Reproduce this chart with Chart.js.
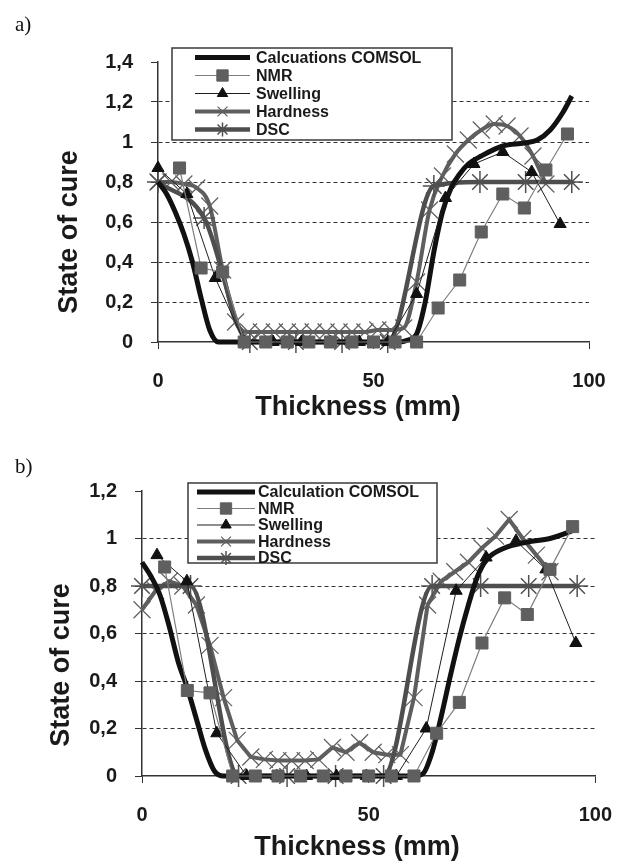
<!DOCTYPE html>
<html lang="en">
<head>
    <meta charset="UTF-8">
    <title>State of cure vs thickness</title>
    <script src="https://cdn.jsdelivr.net/npm/chart.js"></script>
    <style>
        body { margin: 0; background: #fff; width: 632px; height: 864px; position: relative; overflow: hidden; }
        .panel { position: absolute; left: 0; width: 632px; height: 432px; }
        .tag { position: absolute; left: 15px; font-family: "Liberation Serif", "Times New Roman", serif; font-size: 21px; color: #111; }
    </style>
</head>
<body>
    <div class="panel" style="top:0"><canvas id="chartA"></canvas></div>
    <div class="panel" style="top:432px"><canvas id="chartB"></canvas></div>
    <div class="tag" style="top:12px">a)</div>
    <div class="tag" style="top:454px">b)</div>

    <script>
        // ---- panel a) ----
        const comsolAX = [0, 2, 4, 6, 8, 10, 12, 14, 20, 30, 40, 50, 56, 58, 60, 62, 64, 66, 68, 70, 72, 75, 80, 85, 88, 91, 94, 96];
        const comsolAY = [0.80, 0.74, 0.65, 0.54, 0.40, 0.22, 0.06, 0, 0, 0, 0, 0, 0, 0.01, 0.04, 0.20, 0.45, 0.65, 0.77, 0.84, 0.89, 0.93, 0.98, 0.995, 1.01, 1.06, 1.15, 1.23];
        const nmrX = [5, 10, 15, 20, 25, 30, 35, 40, 45, 50, 55, 60, 65, 70, 75, 80, 85, 90, 95];
        const nmrAY = [0.87, 0.37, 0.35, 0, 0, 0, 0, 0, 0, 0, 0, 0, 0.17, 0.31, 0.55, 0.74, 0.67, 0.86, 1.04];
        const swellAX = [0, 6.7, 13.3, 20, 26.7, 33.3, 40, 46.7, 53.3, 60, 66.7, 73.3, 80, 86.7, 93.3];
        const swellAY = [0.87, 0.74, 0.32, 0, 0, 0, 0, 0, 0, 0.24, 0.72, 0.89, 0.95, 0.85, 0.59];
        const hardX = [0, 3, 6, 9, 12, 15, 18, 21, 24, 27, 30, 33, 36, 39, 42, 45, 48, 51, 54, 57, 60, 63, 66, 69, 72, 75, 78, 81, 84, 87, 90];
        const hardAY = [0.80, 0.80, 0.79, 0.77, 0.68, 0.36, 0.10, 0.05, 0.05, 0.05, 0.05, 0.05, 0.05, 0.05, 0.05, 0.05, 0.05, 0.06, 0.06, 0.07, 0.30, 0.66, 0.83, 0.94, 1.01, 1.06, 1.09, 1.08, 1.03, 0.93, 0.79];
        const dscX = [0, 10.7, 21.3, 32, 42.7, 53.3, 64, 74.7, 85.3, 96];
        const dscAY = [0.80, 0.62, 0, 0, 0, 0, 0.78, 0.80, 0.80, 0.80];

        // ---- panel b) ----
        const comsolBX = [0, 2, 4, 6, 8, 10, 12, 14, 16, 18, 30, 40, 50, 60, 62, 64, 66, 68, 70, 72, 74, 76, 80, 85, 90, 96];
        const comsolBY = [0.90, 0.84, 0.76, 0.63, 0.48, 0.37, 0.24, 0.11, 0.02, 0, 0, 0, 0, 0, 0.01, 0.10, 0.25, 0.42, 0.58, 0.72, 0.84, 0.91, 0.96, 0.985, 1.0, 1.04];
        const nmrBY = [0.88, 0.36, 0.35, 0, 0, 0, 0, 0, 0, 0, 0, 0, 0.18, 0.31, 0.56, 0.75, 0.68, 0.87, 1.05];
        const swellBX = [3.3, 9.9, 16.5, 23.1, 29.7, 36.3, 42.9, 49.5, 56.1, 62.7, 69.3, 75.9, 82.5, 89.1, 95.7];
        const swellBY = [0.93, 0.82, 0.18, 0, 0, 0, 0, 0, 0, 0.20, 0.78, 0.92, 0.99, 0.87, 0.56];
        const hardBY = [0.70, 0.78, 0.82, 0.80, 0.72, 0.55, 0.33, 0.15, 0.08, 0.07, 0.065, 0.065, 0.065, 0.07, 0.12, 0.10, 0.14, 0.10, 0.09, 0.09, 0.33, 0.72, 0.82, 0.86, 0.90, 0.96, 1.01, 1.08, 1.00, 0.93, 0.86];
        const dscBY = [0.80, 0.80, 0, 0, 0, 0, 0.80, 0.80, 0.80, 0.80];

        const xTicks = [0, 50, 100];
        const seriesNamesA = ['Calcuations COMSOL', 'NMR', 'Swelling', 'Hardness', 'DSC'];
        const seriesNamesB = ['Calculation COMSOL', 'NMR', 'Swelling', 'Hardness', 'DSC'];
        const xTitle = 'Thickness (mm)';
        const yTitle = 'State of cure';

        const FONT = '"Liberation Sans", Arial, sans-serif';
        const pts = (xs, ys) => xs.map((x, i) => ({ x: x, y: ys[i] }));
        const yFmt = v => {
            const r = Math.round(v * 10) / 10;
            return Number.isInteger(r) ? String(r) : String(r).replace('.', ',');
        };

        // axis titles sit off-centre in the original, so they are placed by hand
        const axisTitles = {
            id: 'axisTitles',
            afterDraw(chart, args, o) {
                const ctx = chart.ctx;
                ctx.save();
                ctx.fillStyle = '#1a1a1a';
                ctx.font = 'bold 27px ' + FONT;
                ctx.textAlign = 'center';
                ctx.textBaseline = 'middle';
                ctx.fillText(xTitle, o.xx, o.xy);
                ctx.translate(o.yx, o.yy);
                ctx.rotate(-Math.PI / 2);
                ctx.fillText(yTitle, 0, 0);
                ctx.restore();
            }
        };

        // legend drawn as a framed box inside the plot, like the original
        const boxLegend = {
            id: 'boxLegend',
            afterDraw(chart, args, o) {
                const ctx = chart.ctx;
                ctx.save();
                ctx.fillStyle = '#fff';
                ctx.fillRect(o.x, o.y, o.w, o.h);
                ctx.lineWidth = 1.5;
                ctx.strokeStyle = '#3a3a3a';
                ctx.strokeRect(o.x, o.y, o.w, o.h);
                ctx.font = 'bold ' + o.size + 'px ' + FONT;
                ctx.textBaseline = 'middle';
                chart.data.datasets.forEach((ds, i) => {
                    const y = o.y + o.first + i * o.step;
                    ctx.strokeStyle = ds.borderColor;
                    ctx.lineWidth = ds.borderWidth;
                    ctx.beginPath();
                    ctx.moveTo(o.x1, y);
                    ctx.lineTo(o.x2, y);
                    ctx.stroke();
                    if (ds.pointRadius > 0 && Chart.helpers && Chart.helpers.drawPoint) {
                        ctx.fillStyle = ds.pointBackgroundColor;
                        ctx.strokeStyle = ds.pointBorderColor;
                        ctx.lineWidth = ds.pointBorderWidth;
                        Chart.helpers.drawPoint(ctx, {
                            pointStyle: ds.pointStyle, radius: ds.legendRadius, rotation: 0, borderWidth: ds.pointBorderWidth
                        }, (o.x1 + o.x2) / 2, y);
                    }
                    ctx.fillStyle = '#1a1a1a';
                    ctx.fillText(ds.label, o.tx, y + 1);
                });
                ctx.restore();
            }
        };

        function makeDatasets(names, d) {
            return [
                { label: names[0], data: pts(d.comsolX, d.comsolY), borderColor: '#111', borderWidth: 5,
                  pointRadius: 0, cubicInterpolationMode: 'monotone', order: 2, clip: false },
                { label: names[1], data: pts(nmrX, d.nmrY), borderColor: '#7e7e7e', borderWidth: 1.2,
                  pointStyle: 'rect', pointRadius: 8.5, legendRadius: 8, pointBackgroundColor: '#5f5f5f',
                  pointBorderColor: '#5f5f5f', pointBorderWidth: 1, tension: 0, order: 0, clip: false },
                { label: names[2], data: pts(d.swellX, d.swellY), borderColor: '#1e1e1e', borderWidth: 1,
                  pointStyle: 'triangle', pointRadius: 7, legendRadius: 6, pointBackgroundColor: '#111',
                  pointBorderColor: '#111', pointBorderWidth: 1, tension: 0, order: 1, clip: false },
                { label: names[3], data: pts(hardX, d.hardY), borderColor: '#5e5e5e', borderWidth: 4,
                  pointStyle: 'crossRot', pointRadius: 12, legendRadius: 7, pointBackgroundColor: '#606060',
                  pointBorderColor: '#606060', pointBorderWidth: 1.2, cubicInterpolationMode: d.hardMode,
                  tension: 0, order: 4, clip: false },
                { label: names[4], data: pts(dscX, d.dscY), borderColor: '#4e4e4e', borderWidth: 4.5,
                  pointStyle: 'star', pointRadius: 11, legendRadius: 7, pointBackgroundColor: '#505050',
                  pointBorderColor: '#505050', pointBorderWidth: 1.5, cubicInterpolationMode: 'monotone',
                  order: 3, clip: false }
            ];
        }

        function makeChart(id, names, d, lay) {
            const yMax = lay.yMax;
            new Chart(document.getElementById(id), {
                type: 'line',
                data: { datasets: makeDatasets(names, d) },
                options: {
                    responsive: true,
                    maintainAspectRatio: false,
                    animation: false,
                    layout: { padding: { top: lay.top, right: lay.right, left: 0, bottom: 0 } },
                    scales: {
                        x: {
                            type: 'linear', min: 0, max: 100,
                            afterBuildTicks: s => { s.ticks = xTicks.map(v => ({ value: v })); },
                            ticks: { padding: 20, color: '#1a1a1a', font: { family: FONT, size: 20, weight: 'bold' } },
                            grid: { drawOnChartArea: false, tickLength: 7, tickColor: '#333', color: '#333' },
                            border: { color: '#333', width: 1.5 },
                            title: { display: false, text: xTitle },
                            afterFit: s => { s.height = lay.xHeight; }
                        },
                        y: {
                            min: 0, max: yMax,
                            ticks: { stepSize: 0.2, padding: 18, color: '#1a1a1a', callback: yFmt,
                                     font: { family: FONT, size: 20, weight: 'bold' } },
                            grid: {
                                color: c => (c.tick && (c.tick.value <= 0 || c.tick.value >= yMax - 1e-6)) ? 'rgba(0,0,0,0)' : '#333',
                                lineWidth: 1, tickLength: 7, tickColor: '#333'
                            },
                            border: { color: '#333', width: 1.5, dash: [4, 3] },
                            title: { display: false, text: yTitle },
                            afterFit: s => { s.width = lay.yWidth; }
                        }
                    },
                    plugins: {
                        legend: { display: false },
                        tooltip: { enabled: false },
                        boxLegend: lay.legend,
                        axisTitles: lay.titles
                    }
                },
                plugins: [boxLegend, axisTitles]
            });
        }

        makeChart('chartA', seriesNamesA,
            { comsolX: comsolAX, comsolY: comsolAY, nmrY: nmrAY, swellX: swellAX, swellY: swellAY,
              hardY: hardAY, hardMode: 'monotone', dscY: dscAY },
            { yMax: 1.4, top: 62, right: 43, yWidth: 158, xHeight: 90,
              titles: { xx: 358, xy: 408, yx: 70, yy: 232 },
              legend: { x: 172, y: 48, w: 280, h: 92, first: 9.5, step: 18, x1: 195, x2: 250, tx: 256, size: 16 } });

        makeChart('chartB', seriesNamesB,
            { comsolX: comsolBX, comsolY: comsolBY, nmrY: nmrBY, swellX: swellBX, swellY: swellBY,
              hardY: hardBY, hardMode: 'default', dscY: dscBY },
            { yMax: 1.2, top: 59, right: 29, yWidth: 142, xHeight: 88,
              titles: { xx: 357, xy: 416, yx: 62, yy: 233 },
              legend: { x: 188, y: 51, w: 249, h: 80, first: 9, step: 16.5, x1: 197, x2: 255, tx: 258, size: 16 } });
    </script>
</body>
</html>
